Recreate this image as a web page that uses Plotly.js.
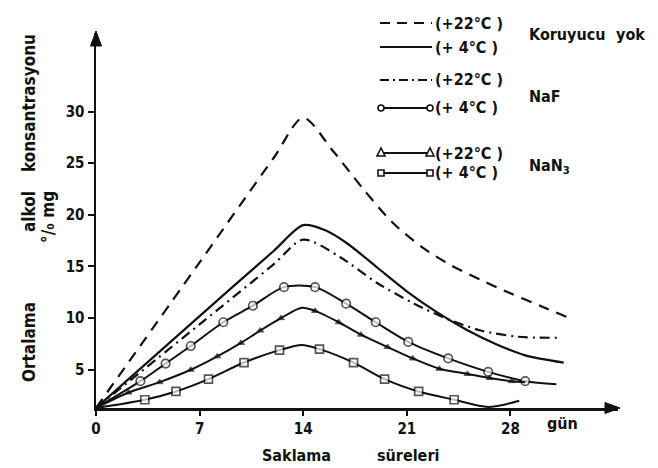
<!DOCTYPE html>
<html><head><meta charset="utf-8">
<script src="https://cdn.plot.ly/plotly-3.0.1.min.js"></script>
<style>html,body{margin:0;padding:0;background:#fff}</style>
</head><body>
<div id="chart" style="width:658px;height:468px"></div>
<script>
// ---- Data (days, mean alcohol concentration) ----
const xTicks = [0, 7, 14, 21, 28];
const yTicks = [5, 10, 15, 20, 25, 30];

// Koruyucu yok, +22 °C (dashed)
const noneWarmDays = [0, 7, 12, 14, 16, 18, 20, 22, 24, 26, 28, 30, 32];
const noneWarmVals = [1.3, 15.4, 25.5, 29.4, 26.2, 22.6, 19.3, 16.9, 15.1, 13.7, 12.4, 11.2, 10.0];
// Koruyucu yok, +4 °C (solid)
const noneColdDays = [0, 7, 12, 14, 15.5, 17, 19, 21, 23, 25, 27, 29, 31.6];
const noneColdVals = [1.3, 10.2, 16.5, 19.0, 18.5, 17.2, 14.9, 12.6, 10.6, 8.9, 7.5, 6.4, 5.7];
// NaF, +22 °C (dash-dot)
const nafWarmDays = [0, 7, 12, 14, 16.5, 19, 21.5, 23.6, 26, 28.5, 31.3];
const nafWarmVals = [1.3, 9.4, 15.2, 17.6, 15.9, 13.4, 11.4, 10.0, 8.8, 8.2, 8.1];
// NaF, +4 °C (circles)
const nafColdDays = [0, 3.0, 4.7, 6.4, 8.6, 10.6, 12.7, 14.8, 16.9, 18.9, 21.1, 23.8, 26.5, 29.0, 31.1];
const nafColdVals = [1.3, 3.9, 5.6, 7.3, 9.6, 11.2, 13.0, 13.0, 11.4, 9.6, 7.7, 6.1, 4.8, 3.9, 3.6];
// NaN3, +22 °C (triangles)
const nanWarmDays = [0, 2.2, 4.3, 6.4, 8.2, 9.8, 11.1, 12.5, 13.9, 14.8, 16.4, 17.9, 19.7, 21.4, 23.2, 25.1, 26.6, 28.1, 29.0];
const nanWarmVals = [1.3, 2.8, 3.8, 5.0, 6.3, 7.6, 8.8, 10.0, 11.0, 10.7, 9.6, 8.4, 7.2, 6.1, 5.1, 4.6, 4.2, 3.9, 3.8];
// NaN3, +4 °C (squares)
const nanColdDays = [0, 3.3, 5.4, 7.6, 10.0, 12.4, 13.9, 15.1, 17.4, 19.5, 21.8, 24.2, 26.5, 28.6];
const nanColdVals = [1.3, 2.1, 2.9, 4.1, 5.7, 6.9, 7.4, 7.0, 5.7, 4.1, 2.9, 2.1, 1.4, 2.0];

// ---- Geometry ----
const W = 658, H = 468;
const M = {l: 96, r: 40, t: 33, b: 60};
const PW = W - M.l - M.r, PH = H - M.t - M.b;
const px = x => (x - M.l) / PW;          // pixel -> paper x
const py = y => (H - M.b - y) / PH;      // pixel -> paper y

const FONT = 'DejaVu Sans Condensed, DejaVu Sans, Liberation Sans, sans-serif';
const INK = '#111';

function sizes(days, unmarked, s) {
  return days.map((d, i) => unmarked.includes(i) ? 0 : s);
}

const common = {type: 'scatter', mode: 'lines', hoverinfo: 'skip', showlegend: false};
const traces = [
  Object.assign({}, common, {x: noneWarmDays, y: noneWarmVals,
    line: {color: INK, width: 2.2, dash: '11px,8px', shape: 'spline', smoothing: 0.8}}),
  Object.assign({}, common, {x: noneColdDays, y: noneColdVals,
    line: {color: INK, width: 2.2, shape: 'spline', smoothing: 0.8}}),
  Object.assign({}, common, {x: nafWarmDays, y: nafWarmVals,
    line: {color: INK, width: 2.2, dash: '10px,5px,2px,5px', shape: 'spline', smoothing: 0.8}}),
  Object.assign({}, common, {x: nafColdDays, y: nafColdVals, mode: 'lines+markers',
    line: {color: INK, width: 2, shape: 'spline', smoothing: 0.8},
    marker: {symbol: 'circle', color: '#fff', size: sizes(nafColdDays, [0, nafColdDays.length - 1], 8.5),
      line: {color: INK, width: 1.7}}}),
  Object.assign({}, common, {x: nanWarmDays, y: nanWarmVals, mode: 'lines+markers',
    line: {color: INK, width: 2, shape: 'spline', smoothing: 0.8},
    marker: {symbol: 'triangle-up', color: INK, size: sizes(nanWarmDays, [0, 8, nanWarmDays.length - 1], 6),
      line: {color: INK, width: 1}}}),
  Object.assign({}, common, {x: nanColdDays, y: nanColdVals, mode: 'lines+markers',
    line: {color: INK, width: 2, shape: 'spline', smoothing: 0.8},
    marker: {symbol: 'square', color: '#fff', size: sizes(nanColdDays, [0, 6, 12, 13], 8),
      line: {color: INK, width: 1.7}}})
];

// ---- Legend (drawn as decoration) ----
const shapes = [];
const annotations = [];
const legX0 = 380, legX1 = 432;
function legLine(yPix, dash) {
  shapes.push({type: 'line', xref: 'paper', yref: 'paper', x0: px(legX0), x1: px(legX1),
    y0: py(yPix), y1: py(yPix), line: {color: INK, width: 2, dash: dash || 'solid'}});
}
function legMark(kind, xPix, yPix) {
  const r = kind === 'tri' ? 4 : 3;
  if (kind === 'circle') {
    shapes.push({type: 'circle', xref: 'paper', yref: 'paper', x0: px(xPix - r), x1: px(xPix + r),
      y0: py(yPix + r), y1: py(yPix - r), fillcolor: '#fff', line: {color: INK, width: 1.6}});
  } else if (kind === 'square') {
    shapes.push({type: 'rect', xref: 'paper', yref: 'paper', x0: px(xPix - r), x1: px(xPix + r),
      y0: py(yPix + r), y1: py(yPix - r), fillcolor: '#fff', line: {color: INK, width: 1.6}});
  } else {
    const p = `M${px(xPix - r)},${py(yPix + 3)} L${px(xPix + r)},${py(yPix + 3)} L${px(xPix)},${py(yPix - 5)} Z`;
    shapes.push({type: 'path', xref: 'paper', yref: 'paper', path: p, fillcolor: '#fff', line: {color: INK, width: 1.6}});
  }
}
function legText(text, xPix, yPix, size, anchor) {
  annotations.push({text: text, xref: 'paper', yref: 'paper', x: px(xPix), y: py(yPix),
    xanchor: anchor || 'left', yanchor: 'middle', showarrow: false,
    font: {family: FONT, size: size || 16, color: INK, weight: 'bold'}});
}

const rows = [23, 47, 80, 108, 153, 173];
legLine(rows[0], '10px,7px');   legText('(+22°C )', 433, rows[0]);
legLine(rows[1]);               legText('(+ 4°C )', 433, rows[1]);
legLine(rows[2], '9px,4px,2px,4px'); legText('(+22°C )', 433, rows[2]);
legLine(rows[3]); legMark('circle', 381, rows[3]); legMark('circle', 430, rows[3]); legText('(+ 4°C )', 433, rows[3]);
legLine(rows[4]); legMark('tri', 381, rows[4]); legMark('tri', 430, rows[4]); legText('(+22°C )', 433, rows[4]);
legLine(rows[5]); legMark('square', 381, rows[5]); legMark('square', 430, rows[5]); legText('(+ 4°C )', 433, rows[5]);
legText('Koruyucu', 527, 34);
legText('yok', 647, 34, 16, 'right');
legText('NaF', 527, 97);
legText('NaN<sub>3</sub>', 527, 167);

// ---- Axis titles & labels ----
function rotText(text, xPix, yPix) {
  annotations.push({text: text, xref: 'paper', yref: 'paper', x: px(xPix), y: py(yPix),
    xanchor: 'center', yanchor: 'middle', textangle: -90, showarrow: false,
    font: {family: FONT, size: 17, color: INK, weight: 'bold'}});
}
rotText('Ortalama', 29, 342);
rotText('alkol', 29, 212);
rotText('konsantrasyonu', 29, 103);
rotText('°/₀ mg', 48, 217);

legText('Saklama', 296, 455, 16, 'center');
legText('süreleri', 408, 455, 16, 'center');
legText('gün', 562, 423, 16, 'center');

// ---- Axis arrowheads (decoration) ----
const xEnd = W - M.r, yAx = H - M.b;
shapes.push({type: 'path', xref: 'paper', yref: 'paper', fillcolor: INK, line: {color: INK, width: 1},
  path: `M${px(xEnd + 2)},${py(yAx)} L${px(xEnd - 13)},${py(yAx - 5.5)} L${px(xEnd - 13)},${py(yAx + 5.5)} Z`});
shapes.push({type: 'path', xref: 'paper', yref: 'paper', fillcolor: INK, line: {color: INK, width: 1},
  path: `M${px(M.l)},${py(M.t - 2)} L${px(M.l - 5.5)},${py(M.t + 13)} L${px(M.l + 5.5)},${py(M.t + 13)} Z`});

const tickFont = {family: FONT, size: 15, color: INK, weight: 'bold'};
const layout = {
  width: W, height: H,
  margin: M,
  paper_bgcolor: '#fff', plot_bgcolor: '#fff',
  font: {family: FONT, color: INK},
  showlegend: false,
  xaxis: {range: [0, PW / 14.8], tickvals: xTicks, ticktext: xTicks.map(String),
    showgrid: false, zeroline: false, showline: true, linecolor: INK, linewidth: 2.5,
    ticks: 'outside', ticklen: 5, tickwidth: 2, tickcolor: INK,
    tickfont: tickFont, fixedrange: true},
  yaxis: {range: [1.3, 1.3 + PH / 10.33], tickvals: yTicks, ticktext: yTicks.map(String),
    showgrid: false, zeroline: false, showline: true, linecolor: INK, linewidth: 2.5,
    ticks: 'outside', ticklen: 6, tickwidth: 2, tickcolor: INK,
    tickfont: tickFont, fixedrange: true},
  shapes: shapes,
  annotations: annotations
};

Plotly.newPlot('chart', traces, layout, {staticPlot: true, displayModeBar: false});
</script>
</body></html>
